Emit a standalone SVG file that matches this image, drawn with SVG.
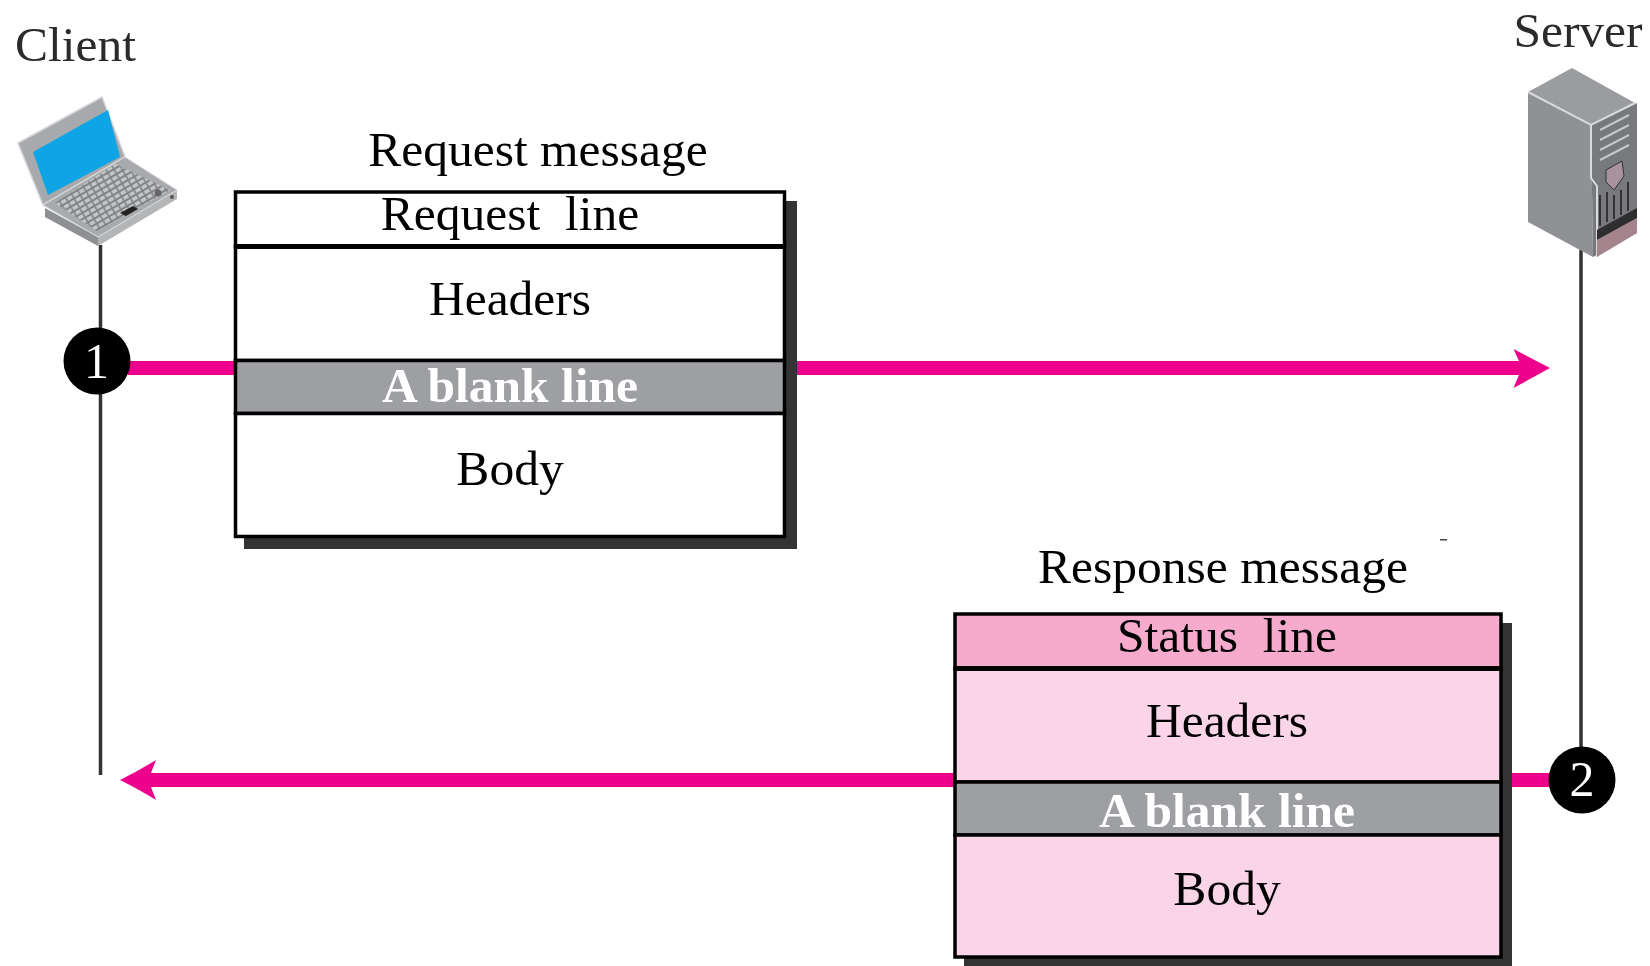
<svg xmlns="http://www.w3.org/2000/svg" width="1650" height="966" viewBox="0 0 1650 966">
<style>
text{font-family:"Liberation Serif","Times New Roman",serif;font-size:49.500px;fill:#000;text-anchor:middle}
.tl{fill:#2b2b2b}
.wt{fill:#fff;font-weight:bold}
.box{stroke:#000;stroke-width:3.500}
.sh{fill:#333}
.plain{fill:#fff}
.bl{fill:#9d9fa2}
.hd{fill:#f6abcd}
.pk{fill:#f9d5e7}
.wire{stroke:#333;stroke-width:3.500;fill:none}
.flow{fill:#ec008c}
.dot{fill:#000}
.num{fill:#fff;font-size:50px}
</style>
<defs>
<pattern id="keys" width="7" height="5.500" patternUnits="userSpaceOnUse" patternTransform="rotate(-30)">
<rect width="7" height="5.500" fill="#808285"/>
<rect x="0.800" y="1" width="5.400" height="3.500" fill="#c4c6c8"/>
</pattern>
</defs>
<rect width="1650" height="966" fill="#fff"/>
<g id="connectors">
<path class="wire" d="M100.500 245V775"/>
<path class="wire" d="M1581 250V750"/>
<path class="flow" d="M128 361H235V375H128Z"/>
<path class="flow" d="M797 361H1519L1513.500 349L1550 368L1513.500 388L1519 375H797Z"/>
<path class="flow" d="M1510 773H1550V787H1510Z"/>
<path class="flow" d="M954 773H151L156 760Q140 770 120 780Q140 790 156 800L151 787H954Z"/>
</g>
<g id="client">
<text class="tl" x="75.500" y="61">Client</text>
<g id="laptop">
<path d="M18 143L102 97L125 157L43 205Z" fill="#a7a9ac" stroke="#d5d6d8" stroke-width="1.500"/>
<path d="M33 152L108 110L120 157L48 195Z" fill="#0ea5e6"/>
<path d="M45 208L98 237V246L45 217Z" fill="#8e9093"/>
<path d="M98 237L177 190V199L98 246Z" fill="#b3b5b7"/>
<path d="M43 205L125 157L177 190L98 237Z" fill="#a8aaad" stroke="#dcdcdc" stroke-width="1"/>
<path d="M55 203L115 164L170 190L97 231Z" fill="url(#keys)"/>
<path d="M120 213L133 206L138 209L126 216Z" fill="#222"/>
<circle cx="158" cy="193" r="3.500" fill="#666"/>
<circle cx="172" cy="197" r="2" fill="#555"/>
</g>
</g>
<g id="server">
<text class="tl" x="1578" y="47">Server</text>
<g id="tower">
<path d="M1528 92L1572 68L1635 103L1591 125Z" fill="#9a9c9f"/>
<path d="M1528 92L1591 125L1593 257L1528 222Z" fill="#8f9194"/>
<path d="M1591 125L1637 103V233L1593 257Z" fill="#77797c"/>
<path d="M1528 92L1591 125L1635 103M1591 125V178L1597 186V257" fill="none" stroke="#d8d9da" stroke-width="2"/>
<path d="M1600 130L1629 115M1600 140L1629 125M1600 150L1629 135M1600 160L1629 145" stroke="#c6c7c9" stroke-width="2"/>
<path d="M1606 170L1622 161L1624 176L1614 190L1606 182Z" fill="#a8929b" stroke="#333" stroke-width="1"/>
<path d="M1600 195V226M1607 192V222M1614 195V219M1621 190V215M1628 182V211" stroke="#333" stroke-width="2"/>
<path d="M1597 230L1637 208V218L1597 240Z" fill="#2e2e30"/>
<path d="M1597 240L1637 218V233L1597 257Z" fill="#a5848e"/>
</g>
</g>
<g id="request-message">
<text x="538" y="166">Request message</text>
<rect class="sh" x="244" y="201" width="553" height="348"/>
<rect class="box plain" x="235.500" y="192" width="549" height="54.500"/>
<rect class="box plain" x="235.500" y="246.500" width="549" height="114"/>
<rect class="box bl" x="235.500" y="360.500" width="549" height="53"/>
<rect class="box plain" x="235.500" y="413.500" width="549" height="123"/>
<path d="M235 246.500H785" stroke="#000" stroke-width="5"/>
<text x="510" y="230" xml:space="preserve">Request  line</text>
<text x="510" y="315">Headers</text>
<text class="wt" x="510" y="402">A blank line</text>
<text x="510" y="485">Body</text>
</g>
<g id="response-message">
<text x="1223" y="583">Response message</text>
<rect class="sh" x="964" y="623" width="548" height="343"/>
<rect class="box hd" x="955" y="614" width="546" height="55"/>
<rect class="box pk" x="955" y="669" width="546" height="113"/>
<rect class="box bl" x="955" y="782" width="546" height="53"/>
<rect class="box pk" x="955" y="835" width="546" height="122"/>
<path d="M955 668.500H1501" stroke="#000" stroke-width="5"/>
<text x="1227" y="652" xml:space="preserve">Status  line</text>
<text x="1227" y="737">Headers</text>
<text class="wt" x="1227" y="827">A blank line</text>
<text x="1227" y="905">Body</text>
</g>
<g id="step-1">
<circle class="dot" cx="97" cy="361" r="33.500"/>
<text class="num" x="96.500" y="378">1</text>
</g>
<g id="step-2">
<circle class="dot" cx="1582" cy="780" r="33.500"/>
<text class="num" x="1582" y="796">2</text>
</g>
<rect x="1440" y="539" width="7" height="1.500" fill="#444"/>
</svg>
